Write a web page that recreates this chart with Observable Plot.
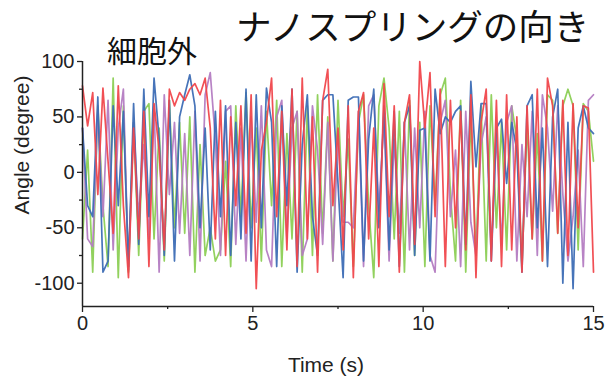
<!DOCTYPE html>
<html>
<head>
<meta charset="utf-8">
<script src="https://cdn.jsdelivr.net/npm/d3@7"></script>
<script src="https://cdn.jsdelivr.net/npm/@observablehq/plot@0.6"></script>
<style>
  html, body { margin: 0; padding: 0; background: #fff; }
  #wrap { position: relative; width: 606px; height: 377px; }
  .t { position: absolute; white-space: nowrap; color: #111; line-height: 1.2; }
  #title { left: 236px; top: 4px; font-family: "Noto Sans CJK JP", sans-serif; font-size: 35.5px; }
  #sub { left: 107px; top: 31px; font-family: "Noto Sans CJK JP", sans-serif; font-size: 30px; }
  #xl { left: 326px; top: 352px; transform: translateX(-50%); font-family: "Liberation Sans", Arial, sans-serif; font-size: 21px; color: #222; }
  #yl { left: 22px; top: 145px; transform: translate(-50%, -50%) rotate(-90deg); font-family: "Liberation Sans", Arial, sans-serif; font-size: 21px; color: #222; }
</style>
</head>
<body>
<div id="wrap">
  <div id="chart"></div>
  <div class="t" id="title">ナノスプリングの向き</div>
  <div class="t" id="sub">細胞外</div>
  <div class="t" id="xl">Time (s)</div>
  <div class="t" id="yl">Angle (degree)</div>
</div>
<script>
const seriesNames = ["green", "purple", "blue", "red"];
const seriesColors = ["#8ccf55", "#b47cc2", "#3d6db5", "#f0474c"];
const timeStep = 0.15;
const xTicks = [0, 5, 10, 15];
const xMinorTicks = [2.5, 7.5, 12.5];
const yTicks = [-100, -50, 0, 50, 100];
const yMinorTicks = [-75, -25, 25, 75];

const red = [
  78, 42, 72, -20, 76, 10, -55, 78, -30, -95,
  40, -60, 55, -85, 62, 20, -70, 75, 60, 72,
  65, 75, 80, 70, 85, 40, -60, 65, -75, 50,
  -30, 60, -55, 70, -105, 20, 45, 85, -40, 55,
  -70, 75, -85, 85, -60, 50, -90, 65, 93, -30,
  40, -70, 60, -95, 55, 72, -60, 40, -85, 80,
  -40, 60, -90, 45, 70, -65, 100, 40, 90, -40,
  75, -85, 65, -50, 55, -70, 70, -95, 45, 75,
  -80, 65, -85, 70, -70, 50, -90, 60, -60, 75,
  -80, 85, 60, -55, 65, -75, 62, -50, 60, 58,
  -90
];
const blue = [
  40, -30, -40, 68, -90, -80, 60, -30, 55, -85,
  62, -65, 75, -40, 85, 30, -75, 65, -80, 50,
  70, 88, 60, -50, 40, -70, 55, -40, 60, -75,
  45, -60, 75, -80, 70, -50, 76, 45, -85, 60,
  -30, 75, -90, 25, 70, -40, -75, 65, 70, 70,
  -10, -95, 65, 68, 68, -80, 30, 75, -50, 60,
  -70, 55, -85, 45, 60, -75, 38, 40, -80, 75,
  35, 50, 45, 55, 60, -65, 82, 5, 62, 62,
  -80, 40, 48, -10, 45, 20, -90, 60, 70, -50,
  40, -85, 50, 75, -100, 45, -105, 40, 60, 40,
  35
];
const green = [
  -60, 20, -90, 60, -30, -85, 85, -95, 60, -90,
  45, -75, 55, 62, -60, 40, -80, 65, -50, 45,
  -55, 50, -90, 25, -75, -50, -80, -70, 10, -85,
  60, -40, 72, -50, 40, -80, 55, -30, 65, -85,
  35, -60, 55, -90, 60, -75, 70, -55, 50, -80,
  65, -40, 30, -85, 45, 70, -30, -95, 60, 85,
  40, -60, 55, -90, 65, -75, 45, -85, 60, -30,
  70, 85, -20, -80, 65, -90, 50, -75, 60, -80,
  70, -50, 45, -70, 60, 30, -85, 45, -60, 35,
  -80, 70, 65, -55, 60, 75, 60, -70, 62, 55,
  10
];
const purple = [
  40, -60, -67, 55, -40, 65, -70, 40, 75, -88,
  45, -40, 25, -60, 60, -90, 70, -20, 45, -55,
  35, -75, 55, -80, 70, 90, 30, -75, 55, 60,
  -65, 40, -80, 50, -45, 60, -70, -85, 50, 65,
  -60, 40, 55, -75, -60, 60, 20, -65, 45, -80,
  35, -45, -45, -50, 55, -85, 60, 70, -35, 50,
  -80, 30, -55, 45, -70, 40, -50, 55, -75, -90,
  45, 65, -40, 20, -85, 55, -45, -75, 25, 50,
  -70, 35, -65, 45, 60, -80, 25, -40, 55, -75,
  70, 40, -35, 60, -20, -80, -40, 20, -85, 65,
  70
];

const seriesValues = { red, blue, green, purple };

const lineMarks = seriesNames.map((name, i) =>
  Plot.lineY(seriesValues[name], {
    x: (d, j) => j * timeStep,
    y: d => d,
    stroke: seriesColors[i],
    strokeWidth: 1.7,
    strokeOpacity: 0.95
  })
);

const chart = Plot.plot({
  width: 606,
  height: 377,
  marginLeft: 82,
  marginRight: 13,
  marginTop: 61,
  marginBottom: 71,
  x: { domain: [0, 15] },
  y: { domain: [-121, 100] },
  style: { fontFamily: "'Liberation Sans', Arial, sans-serif", fontSize: "20px", color: "#222", background: "white" },
  marks: [
    ...lineMarks,
    Plot.ruleX([0], { stroke: "#222", strokeWidth: 1.5 }),
    Plot.ruleY([-121], { stroke: "#222", strokeWidth: 1.5 }),
    Plot.axisX({ ticks: xTicks, tickSize: 6, tickPadding: 3, tickFormat: d => String(d), label: null, strokeWidth: 1.3 }),
    Plot.axisX({ ticks: xMinorTicks, tickSize: 3, tickFormat: () => "", label: null, strokeWidth: 1.3 }),
    Plot.axisY({ ticks: yTicks, tickSize: 5, tickPadding: 3, tickFormat: d => String(d), label: null, strokeWidth: 1.3 }),
    Plot.axisY({ ticks: yMinorTicks, tickSize: 3, tickFormat: () => "", label: null, strokeWidth: 1.3 })
  ]
});
document.getElementById("chart").appendChild(chart);
</script>
</body>
</html>
